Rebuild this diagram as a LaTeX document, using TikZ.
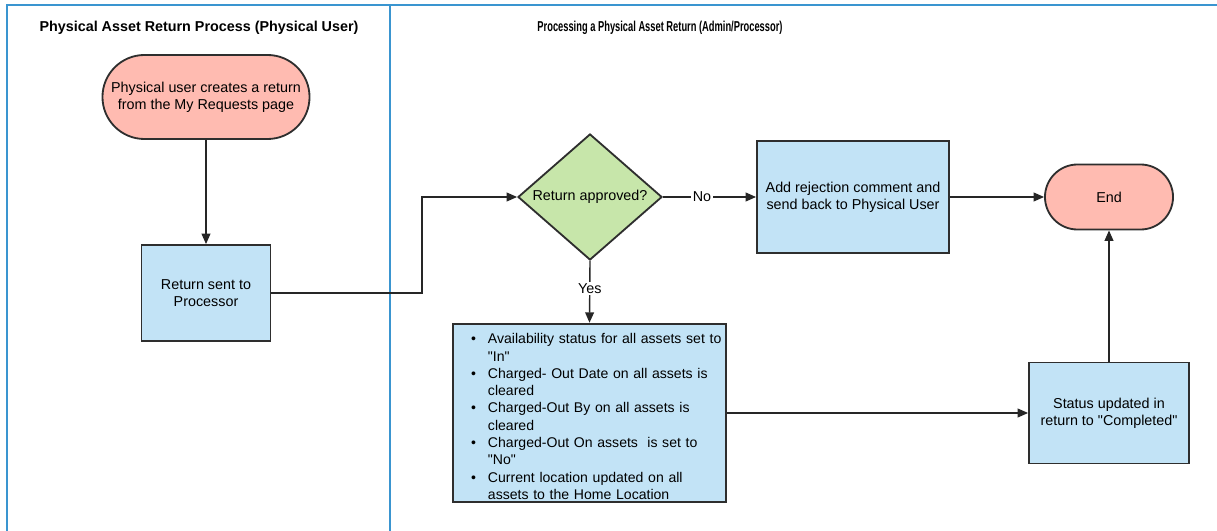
\documentclass[tikz,border=0pt]{standalone}
\usepackage{fontspec}
\setmainfont{Liberation Sans}[Ligatures=TeXOff]
\usepackage{enumitem}
\usetikzlibrary{positioning,shapes.geometric,arrows.meta}
\definecolor{laneblue}{HTML}{3A95D0}
\definecolor{boxblue}{HTML}{C2E3F6}
\definecolor{termred}{HTML}{FFBBB1}
\definecolor{decgreen}{HTML}{C7E6AA}
\definecolor{edgegray}{HTML}{2E2E2E}

\begin{document}
\begin{tikzpicture}[x=0.025cm,y=-0.025cm,
  font=\fontsize{10.2}{12.3}\selectfont,
  box/.style={draw=edgegray,fill=boxblue,line width=1.3pt,align=center,inner sep=2pt},
  term/.style={draw=edgegray,fill=termred,line width=1.3pt,align=center,rounded corners=#1},
  dec/.style={diamond,draw=edgegray,fill=decgreen,line width=1.3pt,aspect=1.143,
    minimum width=3.6cm,minimum height=3.15cm,inner sep=0pt},
  lbl/.style={fill=white,inner sep=1pt},
  ttl/.style={font=\fontsize{10.2}{12}\selectfont\bfseries},
  lane/.style={draw=laneblue,line width=#1},
  conn/.style={->,line width=1pt,draw=black!85},
  >={Triangle[length=2.6mm,width=2.2mm]}
]
\useasboundingbox (0,0) rectangle (1217,531);

% swimlanes
\draw[lane=1.6pt] (7,531) -- (7,5) -- (1217,5);
\draw[lane=1pt] (390,5) -- (390,531);
\node[ttl] (ttluser) at (199,28) {Physical Asset Return Process (Physical User)};
\node[ttl] (ttladmin) at (660,28) {\scalebox{0.65}[1]{Processing a Physical Asset Return (Admin/Processor)}};

% user lane
\node[term=1.05cm,minimum width=5.175cm,minimum height=2.1cm] (start) at (206,97)
  {Physical user creates a return\\from the My Requests page};
\node[box,minimum width=3.225cm,minimum height=2.4cm] (proc) at (206,293)
  {Return sent to\\Processor};

% admin lane
\node[dec] (dec) at (590,197) {Return approved?};
\node[box,minimum width=4.8cm,minimum height=2.8cm] (rej) at (853,197)
  {Add rejection comment and\\send back to Physical User};
\node[term=0.8125cm,minimum width=3.2cm,minimum height=1.625cm] (end) at (1109,197) {End};
\node[box,minimum width=6.825cm,minimum height=4.4cm,text width=6.725cm,align=left,inner xsep=0.05cm,
  font=\fontsize{10}{12.3}\selectfont] (list) at (589.5,413) {%
  \begin{itemize}[leftmargin=0.825cm,labelsep=0.3cm,itemsep=0pt,parsep=0pt,topsep=0pt]
    \item Availability status for all assets set to\newline "In"
    \item Charged- Out Date on all assets is\newline cleared
    \item Charged-Out By on all assets is\newline cleared
    \item Charged-Out On assets~ is set to\newline "No"
    \item Current location updated on all\newline assets to the Home Location
  \end{itemize}};
\node[box,minimum width=4cm,minimum height=2.525cm] (stat) at (1109,413)
  {Status updated in\\return to "Completed"};
\coordinate (bend) at (422,0);

\draw[conn] (start) -- (proc);
\draw[conn] (proc.east) -- (proc.east -| bend) |- (dec.west);
\draw[conn] (dec.east) -- node[lbl,pos=0.42]{No} (rej.west);
\draw[conn] (rej.east) -- (end.west);
\draw[conn] (dec.south) -- node[lbl,pos=0.45]{Yes} (list.north);
\draw[conn] (list.east) -- (stat.west);
\draw[conn] (stat.north) -- (end.south);
\end{tikzpicture}
\end{document}
